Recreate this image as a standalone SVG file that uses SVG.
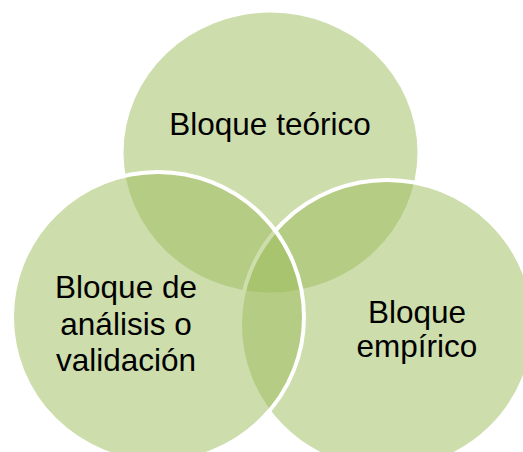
<svg xmlns="http://www.w3.org/2000/svg" width="523" height="452" viewBox="0 0 523 452">
<style>
.c{fill:#9bbb59;fill-opacity:0.5}
.s{stroke:#ffffff;stroke-width:4}
.t{font-family:"Liberation Sans",Arial,sans-serif;font-size:31.5px;fill:#000000;text-anchor:middle}
</style>
<rect width="523" height="452" fill="#ffffff"/>
<g id="node-teorico">
<ellipse class="c" cx="270.5" cy="152.5" rx="147" ry="140"/>
<text class="t" x="270" y="135">Bloque teórico</text>
</g>
<g id="node-empirico">
<ellipse class="c s" cx="387" cy="325" rx="147" ry="145"/>
<text class="t" x="417" y="323">Bloque</text>
<text class="t" x="417" y="357">empírico</text>
</g>
<g id="node-analisis">
<ellipse class="c s" cx="158" cy="317" rx="146" ry="145"/>
<text class="t" x="126" y="298">Bloque de</text>
<text class="t" x="126" y="335">análisis o</text>
<text class="t" x="126" y="371">validación</text>
</g>
<g id="connectors"></g>
</svg>
